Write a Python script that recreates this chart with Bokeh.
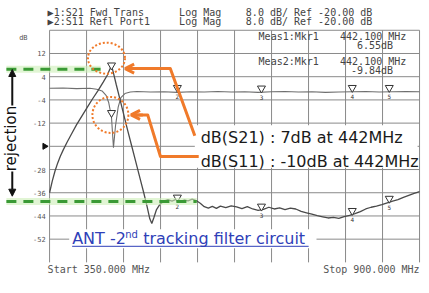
import math
from bokeh.plotting import figure
from bokeh.models import Range1d, Arrow, OpenHead, NormalHead
from bokeh.core.properties import value
from bokeh.embed import file_html
from bokeh.resources import INLINE

# ---------------- data ----------------
start_mhz = 350.0
stop_mhz = 900.0
ref_db = -20.0
scale_db = 8.0
n_div = 10
y_tick_values = [12, 4, -4, -12, -28, -36, -44, -52]
y_tick_labels = ["12", "4", "-4", "-12", "-28", "-36", "-44", "-52"]

s21_freq = [350, 354, 358, 362, 366, 370, 376, 382, 390, 398, 406, 414, 422, 430, 436, 440, 442,
            445, 449, 454, 460, 466, 472, 478, 484, 490, 495, 499, 502, 505, 509, 514, 520, 526,
            532, 538, 544, 550, 556, 562, 568, 574, 580, 586, 592, 598, 604, 612, 620, 628, 636,
            644, 652, 660, 668, 676, 684, 692, 700, 708, 716, 724, 732, 740, 748, 756, 764, 772,
            780, 788, 796, 804, 812, 820, 828, 836, 844, 852, 860, 868, 876, 884, 892, 900]
s21_db = [-36.0, -32.0, -28.6, -25.8, -23.4, -21.4, -18.6, -16.0, -12.6, -9.6, -6.6, -3.6, -0.8,
          2.2, 4.6, 6.8, 8.0, 5.2, 1.4, -3.2, -8.8, -14.4, -19.8, -25.2, -30.6, -36.0, -40.8,
          -45.0, -46.6, -44.6, -41.8, -40.0, -38.9, -38.4, -38.9, -38.3, -39.0, -38.5, -38.8,
          -38.2, -38.7, -39.6, -40.8, -41.3, -40.7, -41.4, -40.6, -41.1, -40.5, -40.9, -41.5,
          -40.8, -41.6, -42.1, -41.7, -41.0, -41.6, -41.2, -41.8, -41.3, -41.6, -42.4, -42.9,
          -43.4, -43.9, -44.3, -44.7, -44.5, -44.8, -44.2, -43.8, -43.2, -42.5, -41.6, -41.0,
          -40.6, -40.1, -39.5, -38.9, -38.4, -37.6, -36.9, -36.2, -35.6]

s11_freq = [350, 370, 390, 410, 420, 428, 434, 438, 442, 445, 448, 452, 456, 462, 470, 480, 500,
            520, 540, 560, 580, 600, 620, 640, 660, 680, 700, 720, 740, 760, 780, 800, 820, 840,
            860, 880, 900]
s11_db = [0.0, 0.1, -0.1, 0.0, -0.3, -0.9, -2.4, -5.0, -9.8, -20.5, -13.0, -6.5, -3.2, -1.8,
          -1.3, -1.1, -1.3, -1.2, -1.4, -1.2, -1.3, -1.1, -1.3, -1.2, -1.4, -1.2, -1.1, -1.3,
          -1.2, -1.4, -1.3, -1.2, -1.1, -1.3, -1.2, -1.1, -1.2]

mkr_freq = [442.1, 540, 665, 800, 855]
mkr_labels = ["1", "2", "3", "4", "5"]
s21_mkr_db = [6.55, -39.0, -42.1, -43.6, -39.4]
s11_mkr_db = [-9.84, -1.2, -1.4, -1.2, -1.2]
rejection_floor_db = -39.0

# ---------------- layout ----------------
W, H = 421, 277
SX, SY = W / 429.0, H / 293.0


def cx(rx):
    return rx * SX


def cy(ry):
    return ry * SY


GL, GR = cx(50), cx(427)
GT, GB = cy(31.5), cy(277)
top_db = ref_db + 5 * scale_db
bot_db = ref_db - 5 * scale_db
mx = (stop_mhz - start_mhz) / (GR - GL)
my = (top_db - bot_db) / (GB - GT)
x0 = start_mhz - GL * mx
x1 = x0 + W * mx
y1 = top_db + GT * my
y0 = y1 - H * my


def X(rx):
    return x0 + cx(rx) * mx


def Y(ry):
    return y1 - cy(ry) * my


def dxp(px):
    return px * mx


def dyp(px):
    return px * my


p = figure(width=W, height=H, output_backend="svg", toolbar_location=None,
           x_range=Range1d(x0, x1), y_range=Range1d(y0, y1),
           x_axis_location=None, y_axis_location=None, min_border=0)
p.grid.visible = False
p.outline_line_color = None
p.background_fill_color = "white"
p.border_fill_color = "white"

GRID = "#8a8a8a"
step_x = (stop_mhz - start_mhz) / n_div
vx = [start_mhz + k * step_x for k in range(n_div + 1)]
p.segment(x0=vx, y0=[bot_db] * len(vx), x1=vx, y1=[top_db] * len(vx),
          line_color=GRID, line_width=1)
hy = [top_db - k * scale_db for k in range(n_div)]
p.segment(x0=[start_mhz] * len(hy), y0=hy, x1=[stop_mhz] * len(hy), y1=hy,
          line_color=GRID, line_width=1)

# white boxes behind annotation texts
p.quad(left=[X(198), X(70)], right=[X(425), X(322)], top=[Y(132), Y(242)],
       bottom=[Y(177), Y(262)], fill_color="white", line_color=None)

MONO = value("DejaVu Sans Mono")
SANS = value("DejaVu Sans")

# tick labels
p.text(x=[X(46)] * len(y_tick_values), y=y_tick_values, text=y_tick_labels,
       text_font=MONO, text_font_size="7px", text_color="#555",
       text_align="right", text_baseline="middle")
p.text(x=[X(19)], y=[Y(40)], text=["dB"], text_font=MONO, text_font_size="7px",
       text_color="#555", text_baseline="middle")
p.scatter(x=[X(45)], y=[ref_db], marker="triangle", angle=-math.pi / 2, size=6,
          color="#111")

# header
hdr1 = ["\u25b61:S21 Fwd Trans", "Log Mag", f"{scale_db:.1f} dB/ Ref {ref_db:.2f} dB"]
hdr2 = ["\u25b62:S11 Refl Port1", "Log Mag", f"{scale_db:.1f} dB/ Ref {ref_db:.2f} dB"]
hx = [X(48), X(182), X(250)]
p.text(x=hx, y=[Y(13)] * 3, text=hdr1, text_font=MONO, text_font_size="10px",
       text_color="#444", text_baseline="middle")
p.text(x=hx, y=[Y(22)] * 3, text=hdr2, text_font=MONO, text_font_size="10px",
       text_color="#444", text_baseline="middle")

# marker readouts
p.text(x=[X(263), X(346), X(263), X(346)], y=[Y(38), Y(38), Y(65), Y(65)],
       text=["Meas1:Mkr1", f"{mkr_freq[0]:.3f} MHz", "Meas2:Mkr1", f"{mkr_freq[0]:.3f} MHz"],
       text_font=MONO, text_font_size="10px", text_color="#444", text_baseline="middle")
p.text(x=[X(400), X(400)], y=[Y(48), Y(74)],
       text=[f"{s21_mkr_db[0]:.2f}dB", f"{s11_mkr_db[0]:.2f}dB"],
       text_font=MONO, text_font_size="10px", text_color="#444", text_baseline="middle",
       text_align="right")

# traces
p.line(s11_freq, s11_db, line_color="#6e6e6e", line_width=1.1)
p.line(s21_freq, s21_db, line_color="#4a4a4a", line_width=1.3)

# markers
p.scatter(x=mkr_freq, y=[v + dyp(4) for v in s21_mkr_db], marker="inverted_triangle",
          size=8, fill_color="white", line_color="#333", line_width=1)
p.scatter(x=mkr_freq, y=[v + dyp(4) for v in s11_mkr_db], marker="inverted_triangle",
          size=8, fill_color="white", line_color="#333", line_width=1)
p.text(x=mkr_freq[1:] + mkr_freq[1:], y=[v - dyp(5) for v in s21_mkr_db[1:] + s11_mkr_db[1:]],
       text=mkr_labels[1:] + mkr_labels[1:], text_font=MONO, text_font_size="6px",
       text_color="#333", text_align="center", text_baseline="middle")

# green dashed rejection levels (glow + dash)
GREEN = "#3a9a35"
for lvl, xr in [(s21_mkr_db[0], 102), (rejection_floor_db, 200)]:
    p.line([X(6), X(xr)], [lvl, lvl], line_color="#cdeeb8", line_width=7, line_alpha=0.6)
    p.line([X(6), X(xr)], [lvl, lvl], line_color=GREEN, line_width=3, line_dash="10 7")

# rejection label and arrows
p.text(x=[X(11)], y=[Y(146)], text=["rejection"], angle=math.pi / 2, text_font=SANS,
       text_font_size="15px", text_color="#111", text_align="center",
       text_baseline="middle")
p.add_layout(Arrow(end=NormalHead(size=7, fill_color="#111", line_color="#111"),
                   x_start=X(12), y_start=Y(111), x_end=X(12), y_end=Y(73),
                   line_color="#111", line_width=2))
p.add_layout(Arrow(end=NormalHead(size=7, fill_color="#111", line_color="#111"),
                   x_start=X(12), y_start=Y(181), x_end=X(12), y_end=Y(207),
                   line_color="#111", line_width=2))

# orange dotted circles around marker 1
ORANGE = "#f07a2a"
p.ellipse(x=[X(108), X(112)], y=[Y(61), Y(121)], width=[37, 36], height=[31, 36],
          width_units="screen", height_units="screen", fill_alpha=0,
          line_color=ORANGE, line_width=2, line_dash="2 2")

# orange callout arrows
p.line([X(130), X(173), X(198)], [Y(72), Y(72), Y(143)], line_color=ORANGE, line_width=3,
       line_join="round")
p.line([X(136), X(150), X(163), X(202)], [Y(121), Y(121), Y(165), Y(165)],
       line_color=ORANGE, line_width=3, line_join="round")
p.add_layout(Arrow(end=OpenHead(size=9, line_color=ORANGE, line_width=3),
                   x_start=X(140), y_start=Y(72), x_end=X(127), y_end=Y(72),
                   line_color=ORANGE, line_width=3))
p.add_layout(Arrow(end=OpenHead(size=9, line_color=ORANGE, line_width=3),
                   x_start=X(145), y_start=Y(121), x_end=X(133), y_end=Y(121),
                   line_color=ORANGE, line_width=3))

# callout texts
p.text(x=[X(204), X(204)], y=[Y(145), Y(170)],
       text=[f"dB(S21) : {round(s21_mkr_db[0]):d}dB at {round(mkr_freq[0]):d}MHz",
             f"dB(S11) : {round(s11_mkr_db[0]):d}dB at {round(mkr_freq[0]):d}MHz"],
       text_font=SANS, text_font_size="16px", text_color="#1a1a1a", text_baseline="middle")

# blue caption with superscript
BLUE = "#2f3fb8"
bx = X(73)
p.text(x=[bx], y=[Y(252)], text=["ANT -2"], text_font=SANS, text_font_size="16px",
       text_color=BLUE, text_baseline="middle")
p.text(x=[bx + dxp(53)], y=[Y(247)], text=["nd"], text_font=SANS, text_font_size="10px",
       text_color=BLUE, text_baseline="middle")
p.text(x=[bx + dxp(71)], y=[Y(252)], text=["tracking filter circuit"], text_font=SANS,
       text_font_size="16px", text_color=BLUE, text_baseline="middle")
p.line([bx, X(314)], [Y(260), Y(260)], line_color=BLUE, line_width=1)

# start / stop
p.text(x=[X(48)], y=[Y(285)], text=[f"Start {start_mhz:.3f} MHz"], text_font=MONO,
       text_font_size="10px", text_color="#555", text_baseline="middle")
p.text(x=[X(427)], y=[Y(285)], text=[f"Stop {stop_mhz:.3f} MHz"], text_font=MONO,
       text_font_size="10px", text_color="#555", text_baseline="middle", text_align="right")

open("out.html", "w").write(file_html(p, INLINE))
